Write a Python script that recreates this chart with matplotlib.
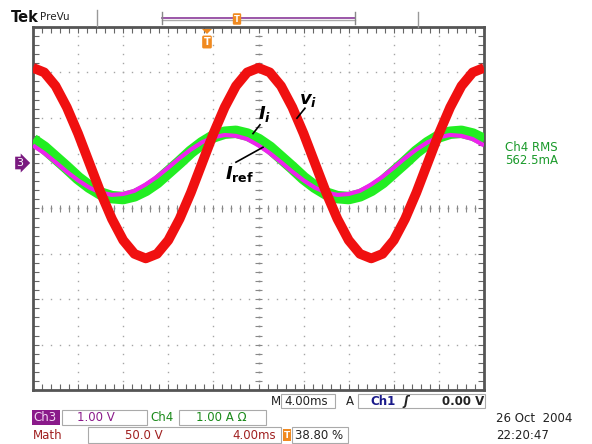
import numpy as np
import matplotlib
matplotlib.use("Agg")
import matplotlib.pyplot as plt
from matplotlib.patches import Rectangle, Polygon
from matplotlib.ticker import MultipleLocator

plt.rcParams['font.family'] = ['DejaVu Sans']
plt.rcParams['mathtext.fontset'] = 'custom'
plt.rcParams['mathtext.it'] = 'DejaVu Sans:italic:bold'
plt.rcParams['mathtext.rm'] = 'DejaVu Sans:bold'
plt.rcParams['mathtext.bf'] = 'DejaVu Sans:bold'

# ---------------- data (time in ms, 4 ms/div; amplitude in screen divisions) ----
time_ms = list(range(-20, 21))
v_i = [3.10, 3.00, 2.70, 2.23, 1.65, 1.00, 0.35, -0.23, -0.70, -1.00,
       -1.10, -1.00, -0.70, -0.23, 0.35, 1.00, 1.65, 2.23, 2.70, 3.00,
       3.10, 3.00, 2.70, 2.23, 1.65, 1.00, 0.35, -0.23, -0.70, -1.00,
       -1.10, -1.00, -0.70, -0.23, 0.35, 1.00, 1.65, 2.23, 2.70, 3.00, 3.10]
i_i = [1.51, 1.34, 1.12, 0.90, 0.67, 0.48, 0.33, 0.25, 0.23, 0.29,
       0.41, 0.58, 0.80, 1.02, 1.25, 1.44, 1.59, 1.67, 1.69, 1.63,
       1.51, 1.34, 1.12, 0.90, 0.67, 0.48, 0.33, 0.25, 0.23, 0.29,
       0.41, 0.58, 0.80, 1.02, 1.25, 1.44, 1.59, 1.67, 1.69, 1.63, 1.51]
i_ref = [1.39, 1.22, 1.02, 0.81, 0.62, 0.46, 0.35, 0.30, 0.32, 0.39,
         0.53, 0.70, 0.90, 1.11, 1.30, 1.46, 1.57, 1.62, 1.60, 1.53,
         1.39, 1.22, 1.02, 0.81, 0.62, 0.46, 0.35, 0.30, 0.32, 0.39,
         0.53, 0.70, 0.90, 1.11, 1.30, 1.46, 1.57, 1.62, 1.60, 1.53, 1.39]

W, H = 592, 444
fig = plt.figure(figsize=(W / 100, H / 100), dpi=100)
fig.patch.set_facecolor('white')

def fx(x):
    return x / W

def fy(y):
    return 1 - y / H

ax = fig.add_axes([33 / W, 54 / H, 451 / W, 363 / H])
ax.set_xlim(-20, 20)
ax.set_ylim(-4, 4)

# graticule
dot_col = '#a5a5a5'
gx = np.arange(-20, 20.01, 0.8)
gy = np.arange(-4, 4.01, 0.2)
for yv in range(-3, 4):
    if yv == 0:
        continue
    ax.plot(gx, np.full_like(gx, yv), ls='none', marker='s', ms=1.0, mew=0, color=dot_col, zorder=1)
for xv in range(-16, 17, 4):
    if xv == 0:
        continue
    ax.plot(np.full_like(gy, xv), gy, ls='none', marker='s', ms=1.0, mew=0, color=dot_col, zorder=1)
# center crosshair
ax.plot(gx, np.zeros_like(gx), ls='none', marker='s', ms=1.2, mew=0, color='#888', zorder=1)
ax.plot(np.zeros_like(gy), gy, ls='none', marker='s', ms=1.2, mew=0, color='#888', zorder=1)
ax.vlines(gx, -0.07, 0.07, color='#888', lw=0.8, zorder=1)
ax.hlines(gy, -0.28, 0.28, color='#888', lw=0.8, zorder=1)

ax.xaxis.set_major_locator(MultipleLocator(4))
ax.xaxis.set_minor_locator(MultipleLocator(0.8))
ax.yaxis.set_major_locator(MultipleLocator(1))
ax.yaxis.set_minor_locator(MultipleLocator(0.2))
ax.tick_params(which='both', direction='in', top=True, right=True, bottom=True, left=True,
               length=4, width=0.8, color='#666',
               labelbottom=False, labelleft=False)
for s in ax.spines.values():
    s.set_color('#555')
    s.set_linewidth(2)

# traces
ax.plot(time_ms, i_i, color='#22ee22', lw=9, solid_capstyle='butt', solid_joinstyle='round', zorder=3)
ax.plot(time_ms, i_ref, color='#ee22ee', lw=3, solid_capstyle='butt', solid_joinstyle='round', zorder=4)
ax.plot(time_ms, v_i, color='#f01010', lw=7, solid_capstyle='butt', solid_joinstyle='round', zorder=5)

# trace labels
ax.text(4.39, 2.39, r'$v_i$', fontsize=13, ha='center', va='center', zorder=6)
ax.plot([4.12, 3.41], [2.21, 1.99], color='black', lw=1.2, zorder=6)
ax.text(0.58, 2.08, r'$I_i$', fontsize=13, ha='center', va='center', zorder=6)
ax.plot([0.13, -0.49], [1.845, 1.65], color='black', lw=1.2, zorder=6)
ax.text(-1.64, 0.76, r'$I_{\mathrm{ref}}$', fontsize=13, ha='center', va='center', zorder=6)
ax.plot([-2.0, 0.40], [1.02, 1.35], color='black', lw=1.2, zorder=6)

# ---------------- screen decorations ----------------
fig.text(fx(11), fy(18), 'Tek', fontsize=10.5, fontweight='bold', va='center', ha='left', color='#111')
fig.text(fx(40), fy(16.5), 'PreVu', fontsize=7.5, va='center', ha='left', color='#222')
fig.add_artist(plt.Line2D([fx(97), fx(97)], [fy(10), fy(26)], color='#999', lw=1, transform=fig.transFigure))
fig.add_artist(plt.Line2D([fx(418), fx(418)], [fy(12), fy(27)], color='#999', lw=1, transform=fig.transFigure))
# record bar
fig.add_artist(plt.Line2D([fx(162), fx(355)], [fy(18), fy(18)], color='#8a3a9a', lw=1.2, transform=fig.transFigure))
fig.add_artist(plt.Line2D([fx(162), fx(355)], [fy(20.5), fy(20.5)], color='#aaaaaa', lw=1, transform=fig.transFigure))
fig.add_artist(plt.Line2D([fx(162), fx(162)], [fy(12), fy(24)], color='#888', lw=1, transform=fig.transFigure))
fig.add_artist(plt.Line2D([fx(355), fx(355)], [fy(12), fy(24)], color='#888', lw=1, transform=fig.transFigure))
fig.text(fx(237), fy(19), 'T', fontsize=6, fontweight='bold', color='white', ha='center', va='center',
         bbox=dict(boxstyle='round,pad=0.15', fc='#f08a20', ec='none'))
# trigger position marker
fig.add_artist(Polygon([[fx(202), fy(29)], [fx(212), fy(29)], [fx(207), fy(34)]], closed=True,
                       fc='#f08a20', ec='none', transform=fig.transFigure))
fig.text(fx(207), fy(42), 'T', fontsize=7, fontweight='bold', color='white', ha='center', va='center',
         bbox=dict(boxstyle='round,pad=0.15', fc='#f08a20', ec='none'))
# channel 3 ground marker
fig.text(fx(20), fy(163), '3', fontsize=8, color='white', ha='center', va='center',
         bbox=dict(boxstyle='rarrow,pad=0.12', fc='#7a1a80', ec='none'))

# right readout
fig.text(fx(505), fy(147), 'Ch4 RMS', fontsize=8.5, color='#1a9a2a', ha='left', va='center')
fig.text(fx(505), fy(161), '562.5mA', fontsize=8.5, color='#1a9a2a', ha='left', va='center')

# bottom readouts
def box(x0, y0, x1, y1, fc='none', ec='#aaaaaa'):
    fig.add_artist(Rectangle((fx(x0), fy(y1)), (x1 - x0) / W, (y1 - y0) / H,
                             transform=fig.transFigure, fc=fc, ec=ec, lw=0.8))

box(281, 394, 335, 408)
box(358, 394, 485, 408)
box(62, 410, 147, 425)
box(179, 410, 266, 425)
box(88, 427, 281, 443)
box(292, 427, 348, 443)
box(32, 410, 60, 425, fc='#8a1a8a', ec='none')

dark = '#222222'
purple = '#8a1a8a'
green = '#1a8a1a'
maroon = '#a02020'
fs = 8.5
fig.text(fx(271), fy(401), 'M', fontsize=fs, color=dark, ha='left', va='center')
fig.text(fx(284), fy(401), '4.00ms', fontsize=fs, color=dark, ha='left', va='center')
fig.text(fx(346), fy(401), 'A', fontsize=fs, color=dark, ha='left', va='center')
fig.text(fx(370), fy(401), 'Ch1', fontsize=fs, color='#1a1a8a', ha='left', va='center', fontweight='bold')
fig.text(fx(403), fy(401), 'ʃ', fontsize=fs, color=dark, ha='left', va='center', fontweight='bold', style='italic')
fig.text(fx(484), fy(401), '0.00 V', fontsize=fs, color=dark, ha='right', va='center', fontweight='bold')

fig.text(fx(33), fy(417.5), 'Ch3', fontsize=fs, color='#f2d8f2', ha='left', va='center')
fig.text(fx(77), fy(417.5), '1.00 V', fontsize=fs, color=purple, ha='left', va='center')
fig.text(fx(150), fy(417.5), 'Ch4', fontsize=fs, color=green, ha='left', va='center')
fig.text(fx(196), fy(417.5), '1.00 A Ω', fontsize=fs, color=green, ha='left', va='center')

fig.text(fx(33), fy(435), 'Math', fontsize=fs, color=maroon, ha='left', va='center')
fig.text(fx(163), fy(435), '50.0 V', fontsize=fs, color=maroon, ha='right', va='center')
fig.text(fx(276), fy(435), '4.00ms', fontsize=fs, color=maroon, ha='right', va='center')
fig.text(fx(287), fy(435), 'T', fontsize=6.5, fontweight='bold', color='white', ha='center', va='center',
         bbox=dict(boxstyle='square,pad=0.12', fc='#f08a20', ec='none'))
fig.text(fx(295), fy(435), '38.80 %', fontsize=fs, color=dark, ha='left', va='center')

fig.text(fx(496), fy(418), '26 Oct  2004', fontsize=fs, color=dark, ha='left', va='center')
fig.text(fx(496), fy(435), '22:20:47', fontsize=fs, color=dark, ha='left', va='center')

fig.savefig('out.png', dpi=100, facecolor='white')
